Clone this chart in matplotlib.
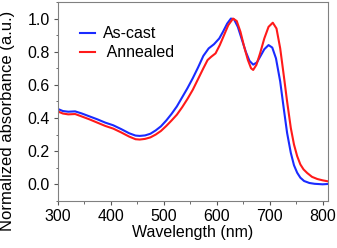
import matplotlib
matplotlib.use('Agg')
import matplotlib.pyplot as plt
from matplotlib.ticker import MultipleLocator

plt.rcParams['font.family'] = ['Liberation Sans', 'DejaVu Sans']

# as-cast film
wl_cast = [300, 310, 320, 333, 345, 360, 375, 390, 405, 420, 435, 447, 455,
           465, 475, 485, 495, 505, 515, 525, 535, 545, 555, 565, 575, 585,
           595, 605, 612, 620, 627, 633, 640, 648, 655, 662, 669, 676, 683,
           690, 698, 705, 712, 720, 727, 733, 740, 746, 752, 758, 765, 775,
           785, 800, 810]
abs_cast = [0.455, 0.442, 0.438, 0.440, 0.428, 0.410, 0.392, 0.372, 0.356,
            0.333, 0.308, 0.294, 0.292, 0.295, 0.305, 0.325, 0.350, 0.385,
            0.425, 0.470, 0.525, 0.580, 0.640, 0.705, 0.775, 0.820, 0.845,
            0.880, 0.920, 0.970, 1.0, 0.995, 0.950, 0.870, 0.800, 0.745,
            0.722, 0.735, 0.775, 0.815, 0.840, 0.825, 0.760, 0.620, 0.450,
            0.310, 0.190, 0.115, 0.070, 0.040, 0.020, 0.008, 0.003, 0.0,
            0.002]

# annealed film
wl_ann = [300, 310, 320, 333, 345, 360, 375, 390, 405, 420, 435, 447, 455,
          465, 475, 485, 495, 505, 515, 525, 535, 545, 555, 565, 575, 583,
          590, 598, 606, 614, 622, 631, 638, 645, 652, 659, 665, 669, 675,
          682, 690, 698, 706, 713, 720, 727, 733, 740, 746, 752, 758, 764,
          771, 780, 790, 800, 810]
abs_ann = [0.440, 0.427, 0.422, 0.424, 0.410, 0.392, 0.372, 0.352, 0.336,
           0.313, 0.288, 0.272, 0.270, 0.274, 0.283, 0.300, 0.322, 0.352,
           0.385, 0.420, 0.465, 0.515, 0.570, 0.635, 0.700, 0.750, 0.770,
           0.790, 0.840, 0.900, 0.960, 1.0, 0.985, 0.920, 0.830, 0.750,
           0.700, 0.690, 0.720, 0.790, 0.880, 0.950, 0.975, 0.940, 0.820,
           0.650, 0.500, 0.340, 0.240, 0.170, 0.120, 0.090, 0.068, 0.045,
           0.032, 0.024, 0.018]

fig = plt.figure(figsize=(3.37, 2.48), dpi=100)
ax = fig.add_axes([0.171, 0.19, 0.802, 0.802])

ax.plot(wl_cast, abs_cast, color='#1a2bff', lw=1.5, label='As-cast',
        solid_joinstyle='round')
ax.plot(wl_ann, abs_ann, color='#ff1a1a', lw=1.5, label=' Annealed',
        solid_joinstyle='round')

ax.set_xlim(300, 810)
ax.set_ylim(-0.1, 1.1)
ax.xaxis.set_major_locator(MultipleLocator(100))
ax.xaxis.set_minor_locator(MultipleLocator(50))
ax.yaxis.set_major_locator(MultipleLocator(0.2))
ax.yaxis.set_minor_locator(MultipleLocator(0.1))
ax.tick_params(which='both', direction='out', labelsize=11.5, color='#555555')
ax.tick_params(which='major', length=3, pad=2.5)
ax.tick_params(which='minor', length=1.8)
for s in ax.spines.values():
    s.set_color('#808080')

ax.set_xlabel('Wavelength (nm)', fontsize=11.5, labelpad=1)
ax.set_ylabel('Normalized absorbance (a.u.)', fontsize=12)
ax.yaxis.set_label_coords(-0.157, 0.40)

ax.legend(loc='upper left', bbox_to_anchor=(0.06, 0.91), frameon=False,
          fontsize=11.5, handlelength=0.95, handletextpad=0.45,
          labelspacing=0.25, borderaxespad=0)

fig.savefig('out.png', dpi=100)
